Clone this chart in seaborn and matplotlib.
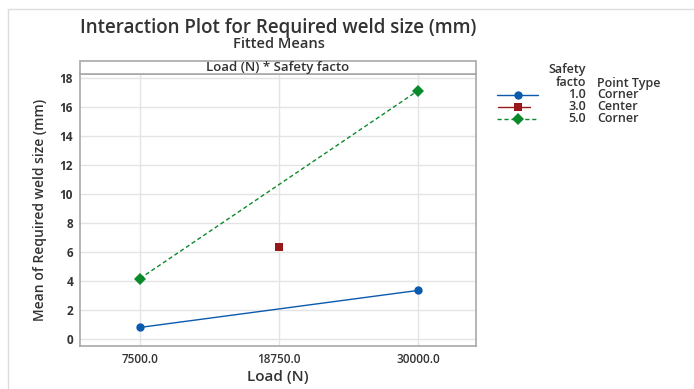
import pandas as pd
import matplotlib.pyplot as plt
import seaborn as sns
from matplotlib.lines import Line2D
from matplotlib.patches import Rectangle

# Data
load_levels = [7500.0, 18750.0, 30000.0]
sf_1_load = [7500.0, 30000.0]
sf_1_mean = [0.83, 3.38]
sf_3_load = [18750.0]
sf_3_mean = [6.35]
sf_5_load = [7500.0, 30000.0]
sf_5_mean = [4.2, 17.15]
safety_labels = ['1.0', '3.0', '5.0']
point_types = ['Corner', 'Center', 'Corner']

df = pd.DataFrame({
    'Load': sf_1_load + sf_3_load + sf_5_load,
    'Mean': sf_1_mean + sf_3_mean + sf_5_mean,
    'Safety': ['1.0'] * len(sf_1_load) + ['3.0'] * len(sf_3_load) + ['5.0'] * len(sf_5_load),
})

colors = {'1.0': '#0a5aae', '3.0': '#98171b', '5.0': '#0b8a2c'}
markers = {'1.0': 'o', '3.0': 's', '5.0': 'D'}
dashes = {'1.0': '', '3.0': '', '5.0': (3, 2)}

sns.set_style('white')
plt.rcParams['font.family'] = ['Open Sans', 'DejaVu Sans']
txt = '#333333'

fig = plt.figure(figsize=(6.94, 3.89), dpi=100)
ax = fig.add_axes([80 / 694, 1 - 346 / 389, 396 / 694, 272 / 389])

sns.lineplot(data=df, x='Load', y='Mean', hue='Safety', style='Safety',
             palette=colors, markers=markers, dashes=dashes, markersize=6,
             markeredgewidth=0, linewidth=1, legend=False, ax=ax)

ax.set_xlim(2650, 34700)
ax.set_ylim(-0.45, 18.3)
ax.set_xticks(load_levels)
ax.set_xticklabels([f'{v:.1f}' for v in load_levels], fontsize=8.5, fontweight='semibold', color=txt)
ax.set_yticks(range(0, 19, 2))
ax.set_yticklabels([str(v) for v in range(0, 19, 2)], fontsize=8.5, fontweight='bold', color=txt)
ax.grid(True, color='#e4e4e4', linewidth=1)
ax.set_axisbelow(True)
for s in ax.spines.values():
    s.set_color('#a8a8a8')
    s.set_linewidth(1.2)
ax.tick_params(axis='both', length=3, width=0.8, color='#777777', pad=2)
ax.set_xlabel('Load (N)', fontsize=11, fontweight='semibold', labelpad=3, color=txt)
ax.set_ylabel('Mean of Required weld size (mm)', fontsize=10, fontweight='semibold',
              labelpad=9, color=txt)

# panel strip above the axes
strip = Rectangle((80 / 694, 1 - 74 / 389), 396 / 694, 13 / 389, transform=fig.transFigure,
                  facecolor='white', edgecolor='#a8a8a8', linewidth=1.2)
fig.patches.append(strip)
fig.text(278 / 694, 1 - 67.5 / 389, 'Load (N) * Safety facto', ha='center', va='center',
         fontsize=9.5, fontweight='semibold', color=txt)

# outer frame
frame = Rectangle((8 / 694, -0.05), 1.1, 1 - 9 / 389 + 0.05, transform=fig.transFigure,
                  facecolor='none', edgecolor='#dcdcdc', linewidth=1)
fig.patches.append(frame)

fig.text(278 / 694, 1 - 28 / 389, 'Interaction Plot for Required weld size (mm)',
         ha='center', va='center', fontsize=13.5, fontweight='semibold', color=txt)
fig.text(279 / 694, 1 - 44.5 / 389, 'Fitted Means', ha='center', va='center',
         fontsize=10.5, fontweight='semibold', color=txt)

# legend
fs = 9
fig.text(586 / 694, 1 - 70 / 389, 'Safety', ha='right', va='center', fontsize=fs,
         fontweight='semibold', color=txt)
fig.text(586 / 694, 1 - 83 / 389, 'facto', ha='right', va='center', fontsize=fs,
         fontweight='semibold', color=txt)
fig.text(597 / 694, 1 - 83 / 389, 'Point Type', ha='left', va='center', fontsize=fs,
         fontweight='semibold', color=txt)
row_y = [95, 107, 119]
for lab, pt, yy in zip(safety_labels, point_types, row_y):
    yf = 1 - yy / 389
    if lab == '3.0':
        xs = [498 / 694, 530 / 694]
    else:
        xs = [497 / 694, 538 / 694]
    ln = Line2D(xs, [yf, yf], transform=fig.transFigure, color=colors[lab],
                linewidth=1, linestyle=(0, dashes[lab]) if dashes[lab] else '-')
    fig.lines.append(ln)
    mk = Line2D([518 / 694], [yf], transform=fig.transFigure, color=colors[lab],
                marker=markers[lab], markersize=6, markeredgewidth=0, linestyle='none')
    fig.lines.append(mk)
    fig.text(586 / 694, yf, lab, ha='right', va='center', fontsize=fs,
             fontweight='semibold', color=txt)
    fig.text(597 / 694, yf, pt, ha='left', va='center', fontsize=fs,
             fontweight='semibold', color=txt)

fig.savefig('out.png', dpi=100)
